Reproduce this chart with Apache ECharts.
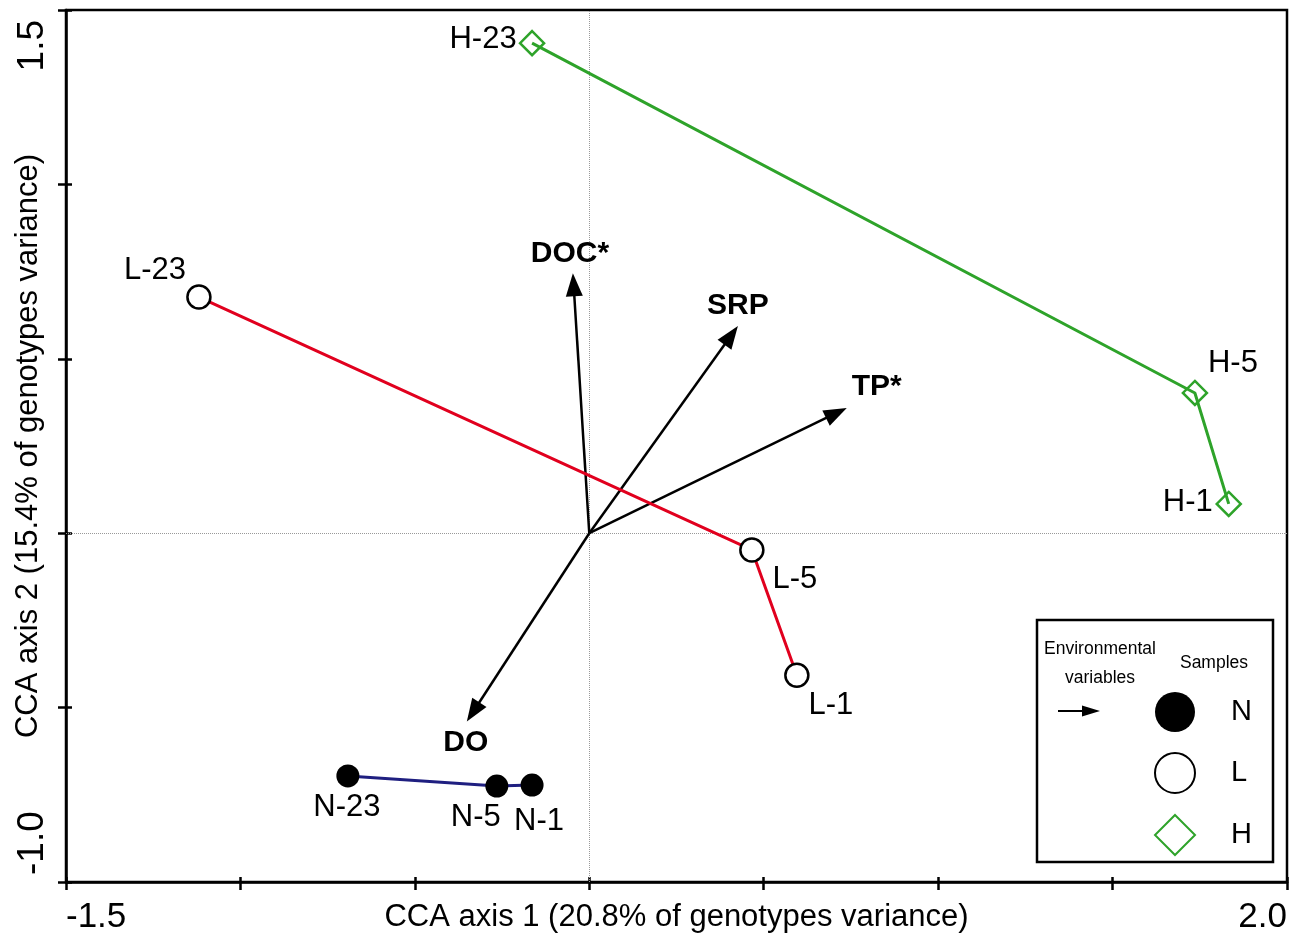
<!DOCTYPE html>
<html>
<head>
<meta charset="utf-8">
<script src="https://cdn.jsdelivr.net/npm/echarts@6/dist/echarts.min.js"></script>
<style>
  html, body { margin: 0; padding: 0; background: #fff; }
  #chart { width: 1300px; height: 934px; }
</style>
</head>
<body>
<div id="chart"></div>
<script>
// axis ticks (only the end labels are printed)
const xTickLabels = ['-1.5', '', '', '', '', '', '', '2.0'];
const yTickLabels = ['-1.0', '', '', '', '', '1.5'];

// samples
const nNames = ['N-23', 'N-5', 'N-1'];
const nX = [-0.692, -0.265, -0.164];
const nY = [-0.696, -0.725, -0.722];

const lNames = ['L-23', 'L-5', 'L-1'];
const lX = [-1.119, 0.466, 0.595];
const lY = [0.677, -0.048, -0.407];

const hNames = ['H-23', 'H-5', 'H-1'];
const hX = [-0.164, 1.736, 1.833];
const hY = [1.405, 0.402, 0.084];

// environmental variables (arrows from origin)
const envNames = ['DOC*', 'SRP', 'TP*', 'DO'];
const envX = [-0.047, 0.426, 0.738, -0.351];
const envY = [0.745, 0.594, 0.359, -0.54];

// label placement (px, label centre relative to the mark)
const labelOffset = {
  'N-23': [-1, 31], 'N-5': [-21, 31], 'N-1': [7, 36],
  'L-23': [-44, -27], 'L-5': [43, 30], 'L-1': [34, 30],
  'H-23': [-49, -4], 'H-5': [38, -30], 'H-1': [-41, -1]
};
const envLabelOffset = {
  'DOC*': [-3, -20], 'SRP': [0, -20], 'TP*': [30, -21], 'DO': [-1, 21]
};

const FONT = '"Liberation Sans", Arial, sans-serif';
const RED = '#e1001e';
const GREEN = '#2ea32a';
const NAVY = '#1f1f80';

const chart = echarts.init(document.getElementById('chart'));

function sampleSeries(name, names, xs, ys, lineColor, symbol, size, itemStyle, extra) {
  return Object.assign({
    name: name,
    type: 'line',
    symbol: symbol,
    symbolSize: size,
    z: 3,
    lineStyle: {color: lineColor, width: 3},
    itemStyle: itemStyle,
    label: {
      show: true,
      position: 'inside',
      formatter: '{b}',
      fontSize: 31,
      fontFamily: FONT,
      color: '#000'
    },
    emphasis: {disabled: true},
    data: names.map((n, i) => ({
      name: n,
      value: [xs[i], ys[i]],
      label: {offset: labelOffset[n]}
    }))
  }, extra || {});
}

const axisBase = {
  type: 'value',
  splitLine: {show: false},
  axisLine: {onZero: false, lineStyle: {color: '#000', width: 2.5}},
  axisTick: {length: 8, lineStyle: {color: '#000', width: 2.5}}
};

var option = {
  animation: false,
  backgroundColor: '#fff',
  textStyle: {fontFamily: FONT},
  grid: {
    left: 66, right: 13, top: 10, bottom: 52,
    show: true, borderColor: '#000', borderWidth: 2.5,
    outerBoundsMode: 'none', containLabel: false
  },
  xAxis: [
    Object.assign({}, axisBase, {
      min: -1.5, max: 2, interval: 0.5, position: 'bottom',
      axisLabel: {
        fontSize: 35, color: '#000', margin: 18, fontFamily: FONT,
        showMinLabel: true, showMaxLabel: true,
        alignMinLabel: 'left', alignMaxLabel: 'right',
        formatter: (v, i) => xTickLabels[i]
      },
      name: 'CCA axis 1 (20.8% of genotypes variance)',
      nameLocation: 'middle',
      nameGap: 20,
      nameMoveOverlap: false,
      nameTextStyle: {fontSize: 31, color: '#000', fontFamily: FONT, verticalAlign: 'top'}
    }),
    {
      type: 'value', min: -1.5, max: 2, interval: 0.5, position: 'bottom',
      splitLine: {show: false},
      axisLine: {show: false, onZero: false},
      axisLabel: {show: false},
      axisTick: {inside: true, length: 5, lineStyle: {color: '#000', width: 2.5}}
    }
  ],
  yAxis: [
    Object.assign({}, axisBase, {
      min: -1, max: 1.5, interval: 0.5, position: 'left',
      axisLabel: {
        fontSize: 37, color: '#000', margin: 15, rotate: 90, fontFamily: FONT,
        showMinLabel: true, showMaxLabel: true,
        alignMinLabel: 'left', alignMaxLabel: 'right',
        padding: [0, 10, 0, 7],
        formatter: (v, i) => yTickLabels[i]
      },
      name: 'CCA axis 2 (15.4% of genotypes variance)',
      nameLocation: 'middle',
      nameRotate: 90,
      nameGap: 22,
      nameMoveOverlap: false,
      nameTextStyle: {fontSize: 31, color: '#000', fontFamily: FONT}
    }),
    {
      type: 'value', min: -1, max: 1.5, interval: 0.5, position: 'left',
      splitLine: {show: false},
      axisLine: {show: false, onZero: false},
      axisLabel: {show: false},
      axisTick: {inside: true, length: 6, lineStyle: {color: '#000', width: 2.5}}
    }
  ],
  legend: {
    orient: 'vertical',
    left: 1154,
    top: 692,
    padding: 0,
    itemWidth: 40,
    itemHeight: 40,
    itemGap: 20,
    selectedMode: false,
    z: 6,
    textStyle: {fontSize: 29, color: '#000', fontFamily: FONT, padding: [0, 0, 0, 31]},
    data: [
      {name: 'N', icon: 'circle', itemStyle: {color: '#000', borderWidth: 0}},
      {name: 'L', icon: 'circle', itemStyle: {color: '#fff', borderColor: '#000', borderWidth: 2}},
      {name: 'H', icon: 'diamond', itemStyle: {color: '#fff', borderColor: GREEN, borderWidth: 2}}
    ]
  },
  graphic: [
    {
      type: 'rect', z: 5,
      shape: {x: 1037, y: 620, width: 236, height: 242},
      style: {fill: '#fff', stroke: '#000', lineWidth: 2.5}
    },
    {
      type: 'text', z: 6, x: 1100, y: 649,
      style: {text: 'Environmental', fontSize: 17.5, fontFamily: FONT, fill: '#000', align: 'center', verticalAlign: 'middle'}
    },
    {
      type: 'text', z: 6, x: 1100, y: 678,
      style: {text: 'variables', fontSize: 17.5, fontFamily: FONT, fill: '#000', align: 'center', verticalAlign: 'middle'}
    },
    {
      type: 'text', z: 6, x: 1214, y: 663,
      style: {text: 'Samples', fontSize: 17.5, fontFamily: FONT, fill: '#000', align: 'center', verticalAlign: 'middle'}
    },
    {
      type: 'line', z: 6,
      shape: {x1: 1058, y1: 711, x2: 1086, y2: 711},
      style: {stroke: '#000', lineWidth: 2}
    },
    {
      type: 'polygon', z: 6,
      shape: {points: [[1082, 705.5], [1100, 711], [1082, 716.5]]},
      style: {fill: '#000'}
    }
  ],
  series: [
    {
      name: 'env',
      type: 'custom',
      z: 2,
      silent: true,
      data: envNames.map((n, i) => ({name: n, value: [envX[i], envY[i]]})),
      renderItem: function (params, api) {
        const o = api.coord([0, 0]);
        const p = api.coord([api.value(0), api.value(1)]);
        const dx = p[0] - o[0], dy = p[1] - o[1];
        const len = Math.sqrt(dx * dx + dy * dy);
        const ux = dx / len, uy = dy / len;
        const hl = 23, hw = 8.5;
        const bx = p[0] - ux * hl, by = p[1] - uy * hl;
        const name = envNames[params.dataIndex];
        const off = envLabelOffset[name];
        return {
          type: 'group',
          children: [
            {
              type: 'line',
              shape: {x1: o[0], y1: o[1], x2: bx + ux * 3, y2: by + uy * 3},
              style: {stroke: '#000', lineWidth: 2.5}
            },
            {
              type: 'polygon',
              shape: {points: [[p[0], p[1]], [bx - uy * hw, by + ux * hw], [bx + uy * hw, by - ux * hw]]},
              style: {fill: '#000'}
            },
            {
              type: 'text',
              x: p[0] + off[0],
              y: p[1] + off[1],
              style: {
                text: name, fontSize: 30, fontWeight: 'bold', fontFamily: FONT,
                fill: '#000', align: 'center', verticalAlign: 'middle'
              }
            }
          ]
        };
      }
    },
    sampleSeries('N', nNames, nX, nY, NAVY, 'circle', 23, {color: '#000'}, {
      markLine: {
        silent: true,
        z: 1,
        symbol: 'none',
        label: {show: false},
        lineStyle: {type: 'dotted', color: '#999', width: 1},
        emphasis: {disabled: true},
        data: [{xAxis: 0}, {yAxis: 0}]
      }
    }),
    sampleSeries('L', lNames, lX, lY, RED, 'circle', 23, {color: '#fff', borderColor: '#000', borderWidth: 2.5}),
    sampleSeries('H', hNames, hX, hY, GREEN, 'diamond', 24, {color: 'rgba(255,255,255,0)', borderColor: GREEN, borderWidth: 2.5})
  ]
};

chart.setOption(option);
</script>
</body>
</html>
